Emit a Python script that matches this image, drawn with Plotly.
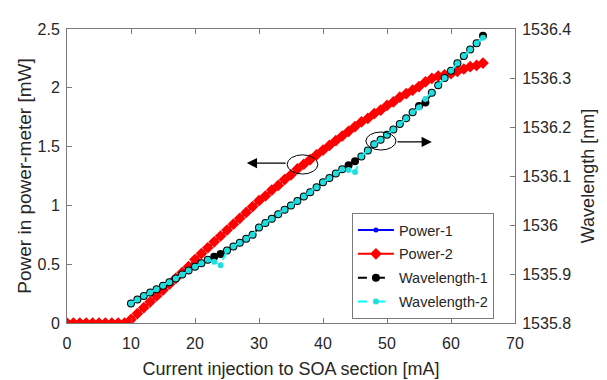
import plotly.graph_objects as go

# ---------------- data ----------------
current_power = list(range(0, 66))
power_2 = [0, 0, 0, 0, 0, 0, 0, 0, 0, 0,
           0.03, 0.08, 0.13, 0.18, 0.23, 0.28, 0.33, 0.38, 0.43, 0.48,
           0.54, 0.59, 0.64, 0.69, 0.74, 0.79, 0.84, 0.89, 0.94, 0.99,
           1.04, 1.08, 1.13, 1.17, 1.22, 1.26, 1.31, 1.35, 1.39, 1.43,
           1.47, 1.51, 1.55, 1.59, 1.63, 1.67, 1.71, 1.74, 1.78, 1.81,
           1.85, 1.88, 1.92, 1.95, 1.98, 2.01, 2.05, 2.08, 2.10, 2.11,
           2.12, 2.14, 2.16, 2.18, 2.19, 2.21]
power_1 = [0, 0, 0, 0, 0, 0, 0, 0, 0, 0,
           0.03, 0.08, 0.13, 0.18, 0.23, 0.28, 0.33, 0.38, 0.43, 0.48,
           0.54, 0.59, 0.64, 0.69, 0.74, 0.79, 0.84, 0.89, 0.94, 0.99,
           1.04, 1.08, 1.13, 1.17, 1.22, 1.26, 1.31, 1.35, 1.39, 1.43,
           1.46, 1.51, 1.55, 1.59, 1.63, 1.67, 1.71, 1.74, 1.78, 1.81,
           1.85, 1.88, 1.92, 1.95, 1.98, 2.01, 2.05, 2.08, 2.11, 2.11,
           2.11, 2.14, 2.15, 2.18, 2.19, 2.21]

current_wl = list(range(10, 66))
wavelength_1 = [1535.840, 1535.848, 1535.855, 1535.862, 1535.869, 1535.876,
                1535.883, 1535.891, 1535.899, 1535.907, 1535.915, 1535.922,
                1535.929, 1535.935, 1535.941, 1535.948, 1535.956, 1535.964,
                1535.972, 1535.980, 1535.995, 1536.004, 1536.013, 1536.022,
                1536.031, 1536.040, 1536.049, 1536.058, 1536.067, 1536.077,
                1536.087, 1536.096, 1536.105, 1536.114, 1536.122, 1536.130,
                1536.140, 1536.152, 1536.165, 1536.174, 1536.184, 1536.195,
                1536.206, 1536.218, 1536.230, 1536.243, 1536.250, 1536.270,
                1536.285, 1536.300, 1536.315, 1536.330, 1536.345, 1536.358,
                1536.371, 1536.386]
wavelength_2 = [1535.840, 1535.848, 1535.855, 1535.862, 1535.869, 1535.876,
                1535.883, 1535.891, 1535.899, 1535.907, 1535.915, 1535.922,
                1535.929, 1535.925, 1535.918, 1535.948, 1535.956, 1535.964,
                1535.972, 1535.980, 1535.995, 1536.004, 1536.013, 1536.022,
                1536.031, 1536.040, 1536.049, 1536.058, 1536.067, 1536.077,
                1536.087, 1536.096, 1536.105, 1536.114, 1536.112, 1536.108,
                1536.140, 1536.152, 1536.165, 1536.174, 1536.184, 1536.195,
                1536.206, 1536.218, 1536.230, 1536.240, 1536.257, 1536.270,
                1536.285, 1536.300, 1536.315, 1536.330, 1536.345, 1536.358,
                1536.371, 1536.382]

x_ticks = [0, 10, 20, 30, 40, 50, 60, 70]
y_ticks = [0, 0.5, 1, 1.5, 2, 2.5]
y_tick_text = ["0", "0.5", "1", "1.5", "2", "2.5"]
y2_ticks = [1535.8, 1535.9, 1536.0, 1536.1, 1536.2, 1536.3, 1536.4]
y2_tick_text = ["1535.8", "1535.9", "1536", "1536.1", "1536.2", "1536.3", "1536.4"]

FONT = "Liberation Sans, Arial, Helvetica, sans-serif"
AXC = "#7a7a7a"
TXT = "#262626"

fig = go.Figure()
fig.add_trace(go.Scatter(x=current_power, y=power_1, name="Power-1", mode="lines+markers",
                         legendgroup="a",
                         line=dict(color="#0000ff", width=2),
                         marker=dict(symbol="circle", size=5, color="#0000ff")))
fig.add_trace(go.Scatter(x=current_power, y=power_2, name="Power-2", mode="lines+markers",
                         legendgroup="b",
                         line=dict(color="#ff0000", width=2),
                         marker=dict(symbol="diamond", size=9, color="#ff0000")))
fig.add_trace(go.Scatter(x=current_wl, y=wavelength_1, name="Wavelength-1", mode="lines+markers",
                         legendgroup="c",
                         yaxis="y2", line=dict(color="#000000", width=2, dash="dash"),
                         marker=dict(symbol="circle", size=8, color="#000000")))
fig.add_trace(go.Scatter(x=current_wl, y=wavelength_2, name="Wavelength-2", mode="lines+markers",
                         legendgroup="d",
                         yaxis="y2", line=dict(color="#00ffff", width=2, dash="dash"),
                         marker=dict(symbol="circle", size=6, color="#22dddd")))

# ellipses and arrows
fig.add_shape(type="circle", xref="x", yref="y", x0=34.4, x1=39.2, y0=1.267, y1=1.43,
              line=dict(color="#000000", width=1))
fig.add_shape(type="circle", xref="x", yref="y", x0=46.7, x1=51.4, y0=1.471, y1=1.624,
              line=dict(color="#000000", width=1))
fig.add_annotation(x=28.1, y=1.36, ax=34.4, ay=1.36, xref="x", yref="y", axref="x", ayref="y",
                   text="", showarrow=True, arrowhead=2, arrowsize=1.7, arrowwidth=1.2,
                   arrowcolor="#000000")
fig.add_annotation(x=57.0, y=1.54, ax=51.4, ay=1.54, xref="x", yref="y", axref="x", ayref="y",
                   text="", showarrow=True, arrowhead=2, arrowsize=1.7, arrowwidth=1.2,
                   arrowcolor="#000000")

# page body has an 8px margin, so the figure is sized/offset to land on the 607x380 frame
fig.update_layout(
    width=599, height=372,
    margin=dict(l=59, r=92, t=21, b=57, autoexpand=False),
    paper_bgcolor="white", plot_bgcolor="white",
    font=dict(family=FONT, size=16, color=TXT),
    showlegend=True,
    legend=dict(x=0.636, y=0.374, xanchor="left", yanchor="top",
                bordercolor=AXC, borderwidth=1, bgcolor="white",
                font=dict(size=14.5, color=TXT), itemwidth=36,
                tracegroupgap=2),
    xaxis=dict(range=[0, 70], tickvals=x_ticks, ticks="inside", ticklen=5,
               tickcolor=AXC, showline=True, linecolor=AXC, linewidth=1,
               mirror="ticks", showgrid=False, zeroline=False, automargin=False,
               ticklabelstandoff=6,
               title=dict(text="Current injection to SOA section [mA]",
                          font=dict(size=18), standoff=11),
               tickfont=dict(size=16)),
    yaxis=dict(range=[0, 2.5], tickvals=y_ticks, ticktext=y_tick_text, ticks="inside",
               ticklen=5, tickcolor=AXC, showline=True, linecolor=AXC, linewidth=1,
               mirror=False, showgrid=False, zeroline=False, automargin=False,
               ticklabelstandoff=3,
               title=dict(text="Power in power-meter [mW]", font=dict(size=19), standoff=0),
               tickfont=dict(size=16)),
    yaxis2=dict(range=[1535.8, 1536.4], tickvals=y2_ticks, ticktext=y2_tick_text,
                overlaying="y", side="right", ticks="inside", ticklen=5, tickcolor=AXC,
                showline=True, linecolor=AXC, linewidth=1, showgrid=False, zeroline=False,
                automargin=False, ticklabelstandoff=3,
                title=dict(text="Wavelength [nm]", font=dict(size=18), standoff=11),
                tickfont=dict(size=16)),
)

fig.write_html("out.html")
